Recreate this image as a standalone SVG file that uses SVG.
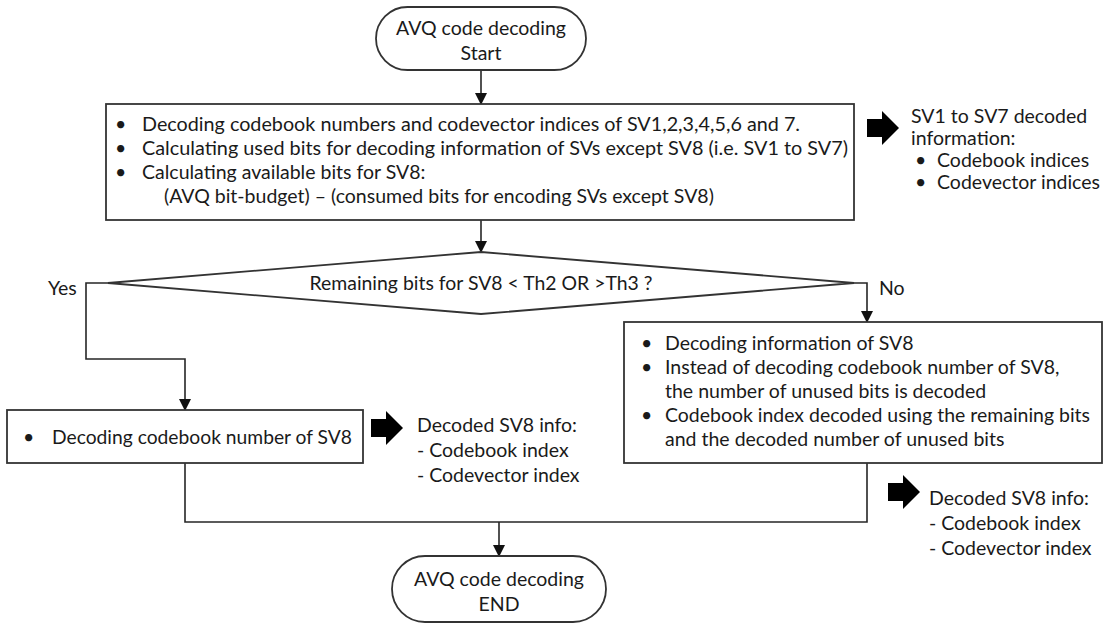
<svg xmlns="http://www.w3.org/2000/svg" width="1107" height="627" viewBox="0 0 1107 627">
<style>
  text { font-family: Lato, "Liberation Sans", sans-serif; font-size: 19.5px; fill: #1a1a1a; }
  .box { fill: #ffffff; stroke: #333333; stroke-width: 1.8; }
  .conn { fill: none; stroke: #262626; stroke-width: 1.6; }
  .big { fill: #000000; }
  .mid { text-anchor: middle; }
</style>
<defs>
  <marker id="ah" markerUnits="userSpaceOnUse" markerWidth="12" markerHeight="14" refX="11" refY="6" orient="auto">
    <path d="M0,0 L12,6 L0,12 Z" fill="#111111"/>
  </marker>
  <path id="bigArrow" d="M0,-9 H15 V-17 L32,0 L15,17 V9 H0 Z"/>
</defs>
<rect width="1107" height="627" fill="#ffffff"/>

<g id="connectors">
  <path class="conn" d="M481,70 V104" marker-end="url(#ah)"/>
  <path class="conn" d="M481,220 V252" marker-end="url(#ah)"/>
  <path class="conn" d="M108,283 H86 V359 H185 V410" marker-end="url(#ah)"/>
  <path class="conn" d="M854,283 H867 V322" marker-end="url(#ah)"/>
  <path class="conn" d="M185,463 V522 H867 V463"/>
  <path class="conn" d="M499,522 V556" marker-end="url(#ah)"/>
</g>

<g id="start">
  <rect class="box" x="376" y="7" width="210" height="63" rx="31.5" ry="31.5"/>
  <text class="mid" x="481" y="35">AVQ code decoding</text>
  <text class="mid" x="481" y="60">Start</text>
</g>

<g id="main-box">
  <rect class="box" x="106" y="104" width="748" height="116"/>
  <text x="115" y="131">•</text>
  <text x="142" y="131" textLength="658" lengthAdjust="spacingAndGlyphs">Decoding codebook numbers and codevector indices of SV1,2,3,4,5,6 and 7.</text>
  <text x="115" y="155">•</text>
  <text x="142" y="155" textLength="706" lengthAdjust="spacingAndGlyphs">Calculating used bits for decoding information of SVs except SV8 (i.e. SV1 to SV7)</text>
  <text x="115" y="179">•</text>
  <text x="142" y="179">Calculating available bits for SV8:</text>
  <text x="164" y="203">(AVQ bit-budget) – (consumed bits for encoding SVs except SV8)</text>
</g>

<g id="sv1-7-output">
  <use href="#bigArrow" class="big" x="867" y="128"/>
  <text x="911" y="123">SV1 to SV7 decoded</text>
  <text x="911" y="145">information:</text>
  <text x="915" y="167">•</text>
  <text x="937" y="167">Codebook indices</text>
  <text x="915" y="189">•</text>
  <text x="937" y="189">Codevector indices</text>
</g>

<g id="decision">
  <polygon class="box" points="481,252 854,283 481,314 108,283"/>
  <text class="mid" x="481" y="290" textLength="343" lengthAdjust="spacingAndGlyphs">Remaining bits for SV8 &lt; Th2 OR &gt;Th3 ?</text>
  <text x="48" y="295">Yes</text>
  <text x="879" y="295">No</text>
</g>

<g id="yes-box">
  <rect class="box" x="7" y="410" width="356" height="53"/>
  <text x="23" y="444">•</text>
  <text x="52" y="444" textLength="300" lengthAdjust="spacingAndGlyphs">Decoding codebook number of SV8</text>
</g>

<g id="yes-output">
  <use href="#bigArrow" class="big" x="371" y="428"/>
  <text x="417" y="432">Decoded SV8 info:</text>
  <text x="417" y="457">- Codebook index</text>
  <text x="417" y="482">- Codevector index</text>
</g>

<g id="no-box">
  <rect class="box" x="624" y="322" width="478" height="141"/>
  <text x="641" y="350">•</text>
  <text x="665" y="350">Decoding information of SV8</text>
  <text x="641" y="374">•</text>
  <text x="665" y="374">Instead of decoding codebook number of SV8,</text>
  <text x="665" y="398">the number of unused bits is decoded</text>
  <text x="641" y="422">•</text>
  <text x="665" y="422" textLength="425" lengthAdjust="spacingAndGlyphs">Codebook index decoded using the remaining bits</text>
  <text x="665" y="446">and the decoded number of unused bits</text>
</g>

<g id="no-output">
  <use href="#bigArrow" class="big" x="888" y="492"/>
  <text x="929" y="505">Decoded SV8 info:</text>
  <text x="929" y="530">- Codebook index</text>
  <text x="929" y="555">- Codevector index</text>
</g>

<g id="end">
  <rect class="box" x="392" y="556" width="214" height="66" rx="33" ry="33"/>
  <text class="mid" x="499" y="586">AVQ code decoding</text>
  <text class="mid" x="499" y="611">END</text>
</g>
</svg>
